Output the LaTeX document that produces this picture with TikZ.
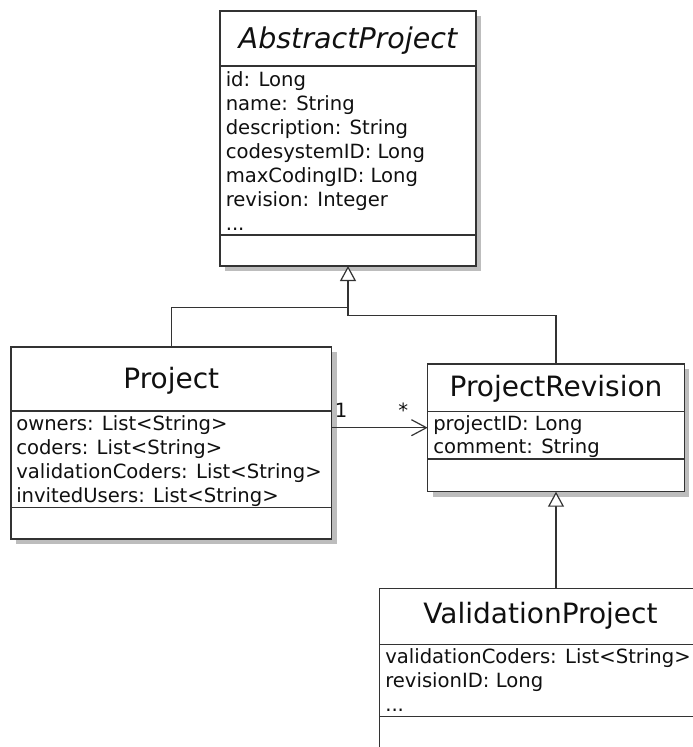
\documentclass[tikz,border=0pt]{standalone}
\usepackage{fontspec}
\setmainfont{DejaVu Sans}
\usetikzlibrary{arrows.meta,shadows}
\definecolor{linec}{HTML}{333333}
\definecolor{textc}{HTML}{101010}
\definecolor{shadc}{HTML}{BDBDBD}
\tikzset{
  classbox/.style={draw=linec, line width=0.9pt, fill=white, inner sep=0pt, outer sep=0pt,
    general shadow={fill=shadc, shadow xshift=3.75pt, shadow yshift=-3.75pt}},
  divider/.style={draw=linec, line width=0.9pt},
  attr/.style={anchor=base west, inner sep=0pt, text=textc, font=\fontsize{14.7pt}{18pt}\selectfont},
  title/.style={anchor=base, inner sep=0pt, text=textc, font=\fontsize{21pt}{25pt}\selectfont},
  mult/.style={anchor=base west, inner sep=0pt, text=textc, font=\fontsize{14.7pt}{18pt}\selectfont},
  inh/.style={draw=linec, line width=0.9pt, -{Triangle[open, fill=white, length=11.25pt, width=12pt]}},
  conn/.style={draw=linec, line width=0.9pt},
  assoc/.style={draw=linec, line width=0.9pt, -{Straight Barb[length=11.25pt, width=12pt]}}
}
\begin{document}
\begin{tikzpicture}[x=0.75pt, y=-0.75pt]
\useasboundingbox (0,0) rectangle (693,747);
\clip (0,0) rectangle (693,747);
% AbstractProject
\node[classbox, minimum width=192pt, minimum height=191.25pt] (ap) at (348,138.5) {};
\draw[divider] (ap.west |- 0,66) -- (ap.east |- 0,66);
\draw[divider] (ap.west |- 0,235) -- (ap.east |- 0,235);
\node[title, font=\fontsize{21.4pt}{25pt}\selectfont\itshape] (apt) at (348,48.3) {AbstractProject};
\node[attr] (apa1) at (225.5, 86) {id: Long};
\node[attr] (apa2) at (225.5, 110) {name: String};
\node[attr] (apa3) at (225.5, 134) {description: String};
\node[attr] (apa4) at (225.5, 158) {codesystemID: Long};
\node[attr] (apa5) at (225.5, 182) {maxCodingID: Long};
\node[attr] (apa6) at (225.5, 206) {revision: Integer};
\node[attr] (apa7) at (225.5, 230) {...};
% Project
\node[classbox, minimum width=240.375pt, minimum height=144pt] (p) at (171.25,443) {};
\draw[divider] (p.west |- 0,411) -- (p.east |- 0,411);
\draw[divider] (p.west |- 0,507.7) -- (p.east |- 0,507.7);
\node[title] (pt) at (171.25,388.3) {Project};
\node[attr] (pa1) at (16, 430) {owners: List<String>};
\node[attr] (pa2) at (16, 454) {coders: List<String>};
\node[attr] (pa3) at (16, 478) {validationCoders: List<String>};
\node[attr] (pa4) at (16, 502) {invitedUsers: List<String>};
% ProjectRevision
\node[classbox, minimum width=192.45pt, minimum height=95.775pt] (pr) at (556,427.85) {};
\draw[divider] (pr.west |- 0,411.7) -- (pr.east |- 0,411.7);
\draw[divider] (pr.west |- 0,459) -- (pr.east |- 0,459);
\node[title] (prt) at (556,396) {ProjectRevision};
\node[attr] (pra1) at (433, 430) {projectID: Long};
\node[attr] (pra2) at (433, 453.5) {comment: String};
% ValidationProject
\node[classbox, minimum width=241.8pt, minimum height=136.275pt] (vp) at (540.5,679) {};
\draw[divider] (vp.west |- 0,644.3) -- (vp.east |- 0,644.3);
\draw[divider] (vp.west |- 0,716.7) -- (vp.east |- 0,716.7);
\node[title] (vpt) at (540.5,623.3) {ValidationProject};
\node[attr] (vpa1) at (385, 663.3) {validationCoders: List<String>};
\node[attr] (vpa2) at (385, 687.3) {revisionID: Long};
\node[attr] (vpa3) at (385, 711.3) {...};
% connectors
\coordinate (j1) at (348,307.3);
\coordinate (j2) at (348,315.7);
\draw[inh] (p.north) |- (j1) -- (ap.south);
\draw[conn] (pr.north) |- (j2) -- (j1);
\draw[inh] (vp.north -| pr.south) -- (pr.south);
\draw[assoc] (p.east |- 0,427.7) -- (pr.west |- 0,427.7);
\node[mult] (m1) at (334.5,417.3) {1};
\node[mult] (m2) at (398,417.3) {*};
\end{tikzpicture}
\end{document}
